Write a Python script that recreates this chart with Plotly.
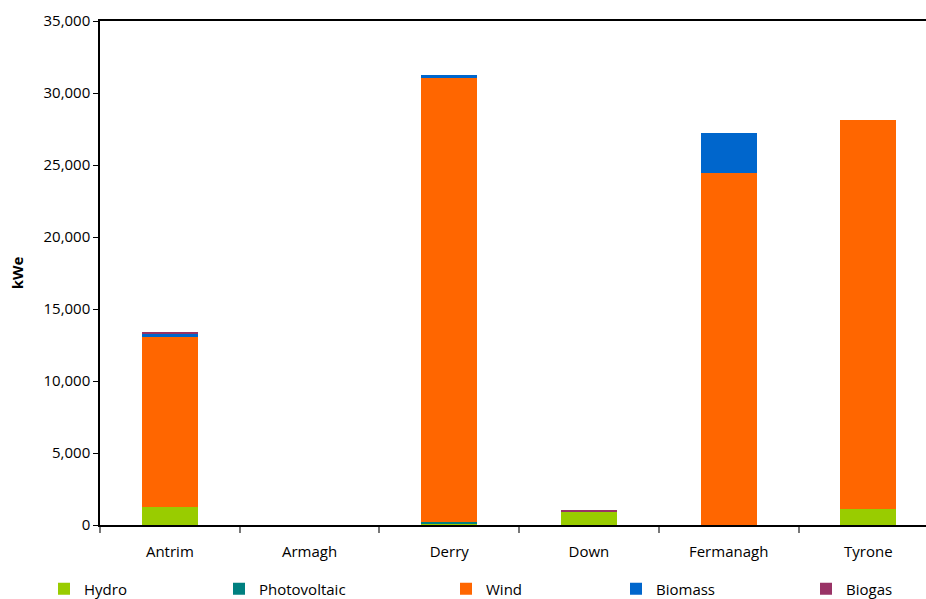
import plotly.graph_objects as go

# Installed electrical capacity by county and technology (kWe)
counties = ["Antrim", "Armagh", "Derry", "Down", "Fermanagh", "Tyrone"]
hydro = [1250, 0, 120, 920, 0, 1110]
photovoltaic = [0, 0, 80, 0, 0, 0]
wind = [11800, 0, 30850, 0, 24450, 27020]
biomass = [230, 0, 200, 0, 2780, 0]
biogas = [140, 0, 0, 150, 0, 0]

y_ticks = [0, 5000, 10000, 15000, 20000, 25000, 30000, 35000]

series = [
    ("Hydro", hydro, "#99CC00"),
    ("Photovoltaic", photovoltaic, "#008080"),
    ("Wind", wind, "#FF6600"),
    ("Biomass", biomass, "#0066CC"),
    ("Biogas", biogas, "#993366"),
]

# one legend per series so entries sit at their own horizontal spots
legend_names = ["legend", "legend2", "legend3", "legend4", "legend5"]
legend_x = [44, 219, 446, 616, 806]  # left edge of each legend, px

FONT = "Open Sans"
W, H = 926, 599
ML, MT, MB = 100, 21, 74
PLOT_W = W - ML
PLOT_H = H - MT - MB

fig = go.Figure()
for (name, vals, color), lg in zip(series, legend_names):
    fig.add_trace(go.Bar(
        x=counties, y=vals, name=name,
        marker=dict(color=color, line=dict(width=0)),
        width=0.4, legend=lg,
    ))

layout_legends = {}
for lg, px in zip(legend_names, legend_x):
    layout_legends[lg] = dict(
        xref="container", x=px / W, xanchor="left",
        yref="container", y=1 - 589 / H, yanchor="middle",
        orientation="h", bgcolor="rgba(0,0,0,0)",
        font=dict(family=FONT, size=15, color="#000"),
        itemwidth=30,
    )

fig.update_layout(
    width=W, height=H,
    margin=dict(l=ML, r=0, t=MT, b=MB, pad=0, autoexpand=False),
    barmode="stack",
    plot_bgcolor="white", paper_bgcolor="white",
    font=dict(family=FONT, size=15, color="#000"),
    showlegend=True,
    **layout_legends,
)

fig.update_xaxes(
    type="category",
    range=[-0.5, -0.5 + PLOT_W / 139.7],
    showline=True, linecolor="#000", linewidth=1.5, mirror=True,
    ticks="outside", tickson="boundaries", ticklen=6, tickcolor="#777",
    tickwidth=1.5, showgrid=False, ticklabelstandoff=12,
    tickfont=dict(family=FONT, size=15),
)

fig.update_yaxes(
    range=[0, 35000], tickvals=y_ticks, tickformat=",",
    showline=True, linecolor="#000", linewidth=1.5,
    ticks="outside", ticklen=5, tickcolor="#000", showgrid=False,
    zeroline=False,
    title=dict(text="<b>kWe</b>", font=dict(family=FONT, size=15), standoff=16),
    tickfont=dict(family=FONT, size=15),
)

fig.write_html("out.html")
